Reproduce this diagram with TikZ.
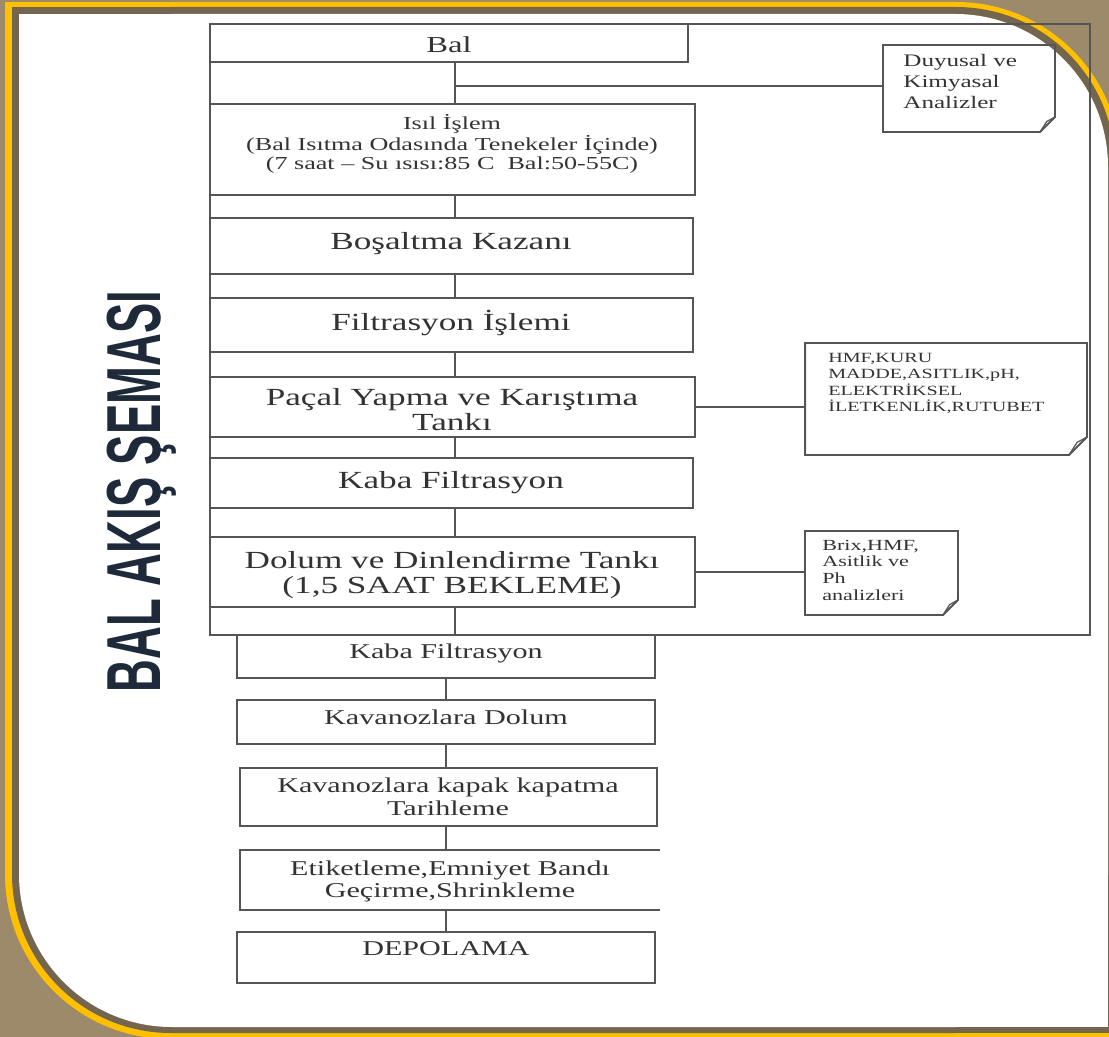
\documentclass[tikz,border=0pt]{standalone}
\usepackage{fontspec}
\setmainfont{Liberation Serif}
\newfontfamily\titlefont{Liberation Sans}
\usepackage{graphicx}
\usetikzlibrary{calc}
\definecolor{bgc}{HTML}{9C8A6A}
\definecolor{yel}{HTML}{FFC000}
\definecolor{rimc}{HTML}{74654F}
\definecolor{linec}{HTML}{555555}
\definecolor{txtc}{HTML}{333333}
\definecolor{titlec}{HTML}{1E2A3A}
\newcommand\sx[1]{\scalebox{1.43}[1]{\begin{tabular}{@{}c@{}}#1\end{tabular}}}
\newcommand\sxl[1]{\scalebox{1.43}[1]{\begin{tabular}{@{}l@{}}#1\end{tabular}}}
\newcommand\notepath[2]{%
  \draw[conn] (#1.north west) -- (#1.north east) -- ($(#1.south east)+(0,-#2)$) -- ($(#1.south east)+(-#2,0)$) -- (#1.south west) -- cycle;
  \draw[conn, line width=0.7pt] ($(#1.south east)+(-#2,0)$) -- ($(#1.south east)+(-0.55*#2,-0.7*#2)$) -- ($(#1.south east)+(0,-#2)$);}
\begin{document}
\begin{tikzpicture}[x=0.02cm, y=-0.02cm,
  box/.style={draw=linec, line width=1.1pt, inner sep=0, outer sep=0},
  txt/.style={inner sep=0, text=txtc},
  conn/.style={draw=linec, line width=1.1pt},
  notebox/.style={inner sep=0, outer sep=0}]
\useasboundingbox (0,0) rectangle (1109,1037);
\clip (0,0) rectangle (1109,1037);
\fill[bgc] (0,0) rectangle (1109,1037);
% frame
\fill[yel, rounded corners=3.3cm] (5,2) rectangle (1121,1039);
\fill[yel] (5,2) rectangle (300,300);
\fill[yel] (800,700) rectangle (1121,1039);
\fill[rimc, rounded corners=3.18cm] (12,7) rectangle (1115,1033);
\fill[rimc] (12,7) rectangle (300,300);
\fill[rimc] (800,700) rectangle (1115,1033);
\fill[white, rounded corners=3.06cm] (19,14) rectangle (1108,1027);
\fill[white] (19,14) rectangle (300,300);
\fill[white] (800,700) rectangle (1108,1027);

% title
\node[rotate=90, anchor=base, text=titlec, inner sep=0, font=\titlefont\bfseries\fontsize{43.6}{44}\selectfont] (title) at (160,491.5) {\scalebox{0.593}[1]{BAL AKIŞ ŞEMASI}};

% outer table
\node[box, line width=1.4pt, minimum width=17.6cm, minimum height=12.22cm] (tbl) at (650,329.5) {};

% boxes
\node[box, minimum width=9.56cm, minimum height=0.76cm] (bal) at (449,43) {};
\node[box, minimum width=9.70cm, minimum height=1.82cm] (isil) at (452.5,149.5) {};
\node[box, minimum width=9.66cm, minimum height=1.12cm] (bosalt) at (451.5,246) {};
\node[box, minimum width=9.66cm, minimum height=1.08cm] (filt) at (451.5,325) {};
\node[box, minimum width=9.70cm, minimum height=1.20cm] (pacal) at (452.5,407) {};
\node[box, minimum width=9.66cm, minimum height=1.00cm] (kaba1) at (451.5,483) {};
\node[box, minimum width=9.70cm, minimum height=1.40cm] (dolum) at (452.5,572) {};
\node[box, fill=white, minimum width=8.36cm, minimum height=0.86cm] (kaba2) at (446,656.5) {};
\node[box, minimum width=8.36cm, minimum height=0.88cm] (kavdol) at (446,722) {};
\node[box, minimum width=8.34cm, minimum height=1.16cm] (kapak) at (448.5,797) {};
\node[box, draw=none, minimum width=8.40cm, minimum height=1.20cm] (etiket) at (450,880) {};
\draw[conn] (etiket.north east) -- (etiket.north west) -- (etiket.south west) -- (etiket.south east);
\node[box, minimum width=8.36cm, minimum height=1.02cm] (depo) at (446,957.5) {};

% note boxes
\node[notebox, minimum width=3.44cm, minimum height=1.74cm] (n1) at (969,88.5) {};
\node[notebox, minimum width=5.64cm, minimum height=2.24cm] (n2) at (946,399) {};
\node[notebox, minimum width=3.06cm, minimum height=1.68cm] (n3) at (881.5,573) {};
\notepath{n1}{15}
\notepath{n2}{18}
\notepath{n3}{15}

% texts
\node[txt, font=\fontsize{13}{14}\selectfont] (tbal) at (449,48) {\sx{Bal}};
\node[txt, font=\fontsize{10.4}{10.8}\selectfont] (tisil) at (452,145) {\sx{Isıl İşlem\\(Bal Isıtma Odasında Tenekeler İçinde)\\(7 saat – Su ısısı:85 C\enspace Bal:50-55C)}};
\node[txt, font=\fontsize{14}{15}\selectfont] (tbosalt) at (451,244) {\sx{Boşaltma Kazanı}};
\node[txt, font=\fontsize{14}{15}\selectfont] (tfilt) at (451,324) {\sx{Filtrasyon İşlemi}};
\node[txt, font=\fontsize{14}{13.6}\selectfont] (tpacal) at (452,413) {\sx{Paçal Yapma ve Karıştıma\\Tankı}};
\node[txt, font=\fontsize{14}{15}\selectfont] (tkaba1) at (451,483) {\sx{Kaba Filtrasyon}};
\node[txt, font=\fontsize{14}{14.2}\selectfont] (tdolum) at (452,576) {\sx{Dolum ve Dinlendirme Tankı\\(1,5 SAAT BEKLEME)}};
\node[txt, font=\fontsize{12}{13}\selectfont] (tkaba2) at (446,654) {\sx{Kaba Filtrasyon}};
\node[txt, font=\fontsize{12}{13}\selectfont] (tkavdol) at (446,720) {\sx{Kavanozlara Dolum}};
\node[txt, font=\fontsize{12}{13}\selectfont] (tkapak) at (448,799.5) {\sx{Kavanozlara kapak kapatma\\Tarihleme}};
\node[txt, font=\fontsize{12}{12.5}\selectfont] (tetiket) at (450,882) {\sx{Etiketleme,Emniyet Bandı\\Geçirme,Shrinkleme}};
\node[txt, font=\fontsize{12}{13}\selectfont] (tdepo) at (446,951) {\sx{DEPOLAMA}};

\node[txt, anchor=west, font=\fontsize{10}{11.9}\selectfont] (tn1) at (903,83) {\sxl{Duyusal ve\\Kimyasal\\Analizler}};
\node[txt, anchor=west, font=\fontsize{8}{9.1}\selectfont] (tn2) at (828,384) {\sxl{HMF,KURU\\MADDE,ASITLIK,pH,\\ELEKTRİKSEL\\İLETKENLİK,RUTUBET}};
\node[txt, anchor=west, font=\fontsize{8.8}{9.6}\selectfont] (tn3) at (822,572) {\sxl{Brix,HMF,\\Asitlik ve\\Ph\\analizleri}};

% connectors
\coordinate (ux) at (455,0);
\coordinate (lx) at (446,0);
\coordinate (j1) at (455,86);
\draw[conn] (ux |- bal.south) -- (ux |- isil.north);
\draw[conn] (j1) -- (j1 -| n1.west);
\draw[conn] (ux |- isil.south) -- (ux |- bosalt.north);
\draw[conn] (ux |- bosalt.south) -- (ux |- filt.north);
\draw[conn] (ux |- filt.south) -- (ux |- pacal.north);
\draw[conn] (pacal.east) -- (pacal.east -| n2.west);
\draw[conn] (ux |- pacal.south) -- (ux |- kaba1.north);
\draw[conn] (ux |- kaba1.south) -- (ux |- dolum.north);
\draw[conn] (dolum.east) -- (dolum.east -| n3.west);
\draw[conn] (ux |- dolum.south) -- (ux |- kaba2.north);
\draw[conn] (lx |- kaba2.south) -- (lx |- kavdol.north);
\draw[conn] (lx |- kavdol.south) -- (lx |- kapak.north);
\draw[conn] (lx |- kapak.south) -- (lx |- etiket.north);
\draw[conn] (lx |- etiket.south) -- (lx |- depo.north);
\end{tikzpicture}
\end{document}
